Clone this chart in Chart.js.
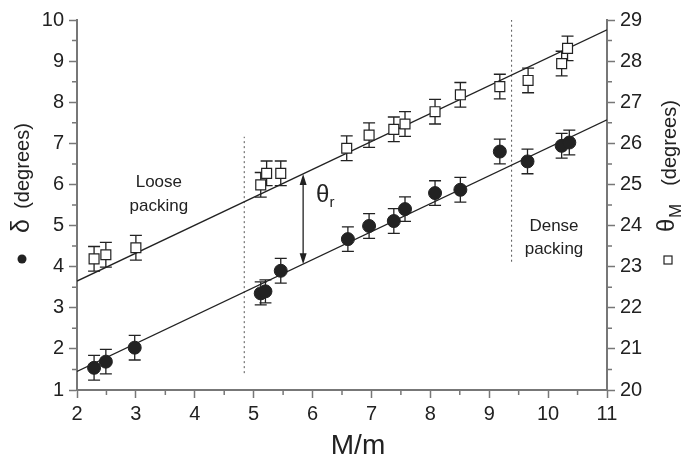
<!DOCTYPE html>
<html>
<head>
<meta charset="utf-8">
<script src="https://cdn.jsdelivr.net/npm/chart.js@4.4.1/dist/chart.umd.min.js"></script>
<style>
  body { margin: 0; background: #fff; }
  #wrap { width: 686px; height: 460px; position: relative; }
</style>
</head>
<body>
<div id="wrap"><canvas id="plot"></canvas></div>
<script>
// δ data (filled circles, left axis)
const deltaX   = [2.29, 2.49, 2.98, 5.12, 5.20, 5.46, 6.60, 6.96, 7.38, 7.57, 8.08, 8.51, 9.18, 9.65, 10.23, 10.36];
const deltaY   = [1.54, 1.69, 2.03, 3.35, 3.40, 3.90, 4.67, 4.99, 5.11, 5.40, 5.79, 5.87, 6.80, 6.56, 6.94, 7.02];
const deltaErr = [0.30, 0.30, 0.30, 0.28, 0.28, 0.30, 0.30, 0.30, 0.30, 0.30, 0.30, 0.30, 0.30, 0.30, 0.30, 0.30];

// θM data (open squares, right axis)
const thetaX   = [2.29, 2.49, 3.00, 5.12, 5.22, 5.46, 6.58, 6.96, 7.38, 7.57, 8.08, 8.51, 9.18, 9.66, 10.23, 10.33];
const thetaY   = [23.19, 23.29, 23.46, 24.99, 25.27, 25.27, 25.88, 26.20, 26.34, 26.47, 26.77, 27.18, 27.38, 27.53, 27.94, 28.31];
const thetaErr = [0.30, 0.30, 0.30, 0.30, 0.30, 0.30, 0.30, 0.30, 0.30, 0.30, 0.30, 0.30, 0.30, 0.30, 0.30, 0.30];

// linear fits
const fitX      = [2, 11];
const deltaFit  = [1.45, 7.57];
const thetaFit  = [22.65, 28.76];

// dotted regime boundaries (left axis values)
const looseEdgeX = 4.84, looseEdgeY = [1.41, 7.16];
const denseEdgeX = 9.38, denseEdgeY = [4.12, 10];

// θr arrow position
const arrowX = 5.84;

const pts = (xs, ys) => xs.map((x, i) => ({ x: x, y: ys[i] }));
const lineAt = (ys, x) => ys[0] + (ys[1] - ys[0]) * (x - fitX[0]) / (fitX[1] - fitX[0]);

const ink = '#222';
const axisGrey = '#777';
const FONT = '"Liberation Sans", Arial, sans-serif';

const extras = {
  id: 'extras',
  beforeDatasetsDraw(chart) {
    const ctx = chart.ctx;
    const xs = chart.scales.x;
    ctx.save();
    ctx.strokeStyle = ink;
    ctx.lineWidth = 1.3;
    chart.data.datasets.forEach(ds => {
      if (!ds.errorBars) return;
      const ys = chart.scales[ds.yAxisID];
      ds.data.forEach((p, i) => {
        const px = xs.getPixelForValue(p.x);
        const top = ys.getPixelForValue(p.y + ds.errorBars[i]);
        const bot = ys.getPixelForValue(p.y - ds.errorBars[i]);
        ctx.beginPath();
        ctx.moveTo(px, top); ctx.lineTo(px, bot);
        ctx.moveTo(px - 6, top); ctx.lineTo(px + 6, top);
        ctx.moveTo(px - 6, bot); ctx.lineTo(px + 6, bot);
        ctx.stroke();
      });
    });
    ctx.restore();
  },
  afterDraw(chart) {
    const ctx = chart.ctx;
    const xs = chart.scales.x, yl = chart.scales.y, yr = chart.scales.y2;
    const area = chart.chartArea;
    ctx.save();

    // minor ticks
    ctx.strokeStyle = axisGrey;
    ctx.lineWidth = 1.5;
    ctx.beginPath();
    for (let v = 2.5; v < 11; v += 1) {
      const p = xs.getPixelForValue(v);
      ctx.moveTo(p, area.bottom); ctx.lineTo(p, area.bottom + 5);
    }
    for (let v = 1.5; v < 10; v += 1) {
      const p = yl.getPixelForValue(v);
      ctx.moveTo(area.left, p); ctx.lineTo(area.left - 5, p);
    }
    for (let v = 20.5; v < 29; v += 1) {
      const p = yr.getPixelForValue(v);
      ctx.moveTo(area.right, p); ctx.lineTo(area.right + 5, p);
    }
    ctx.stroke();

    // θr double arrow
    const ax = xs.getPixelForValue(arrowX);
    const aTop = yl.getPixelForValue(lineAt(thetaFit, arrowX) - 19);
    const aBot = yl.getPixelForValue(lineAt(deltaFit, arrowX));
    ctx.strokeStyle = ink;
    ctx.fillStyle = ink;
    ctx.lineWidth = 1.3;
    ctx.beginPath();
    ctx.moveTo(ax, aTop + 8); ctx.lineTo(ax, aBot - 8);
    ctx.stroke();
    ctx.beginPath();
    ctx.moveTo(ax, aTop); ctx.lineTo(ax - 3.5, aTop + 11); ctx.lineTo(ax + 3.5, aTop + 11); ctx.closePath();
    ctx.moveTo(ax, aBot); ctx.lineTo(ax - 3.5, aBot - 11); ctx.lineTo(ax + 3.5, aBot - 11); ctx.closePath();
    ctx.fill();

    // annotations
    ctx.fillStyle = ink;
    ctx.textAlign = 'center';
    ctx.textBaseline = 'middle';
    ctx.font = '17px ' + FONT;
    ctx.fillText('Loose', xs.getPixelForValue(3.39), yl.getPixelForValue(6.04));
    ctx.fillText('packing', xs.getPixelForValue(3.39), yl.getPixelForValue(5.48));
    ctx.fillText('Dense', xs.getPixelForValue(10.1), yl.getPixelForValue(4.99));
    ctx.fillText('packing', xs.getPixelForValue(10.1), yl.getPixelForValue(4.43));

    ctx.textAlign = 'left';
    ctx.textBaseline = 'alphabetic';
    const tx = xs.getPixelForValue(6.06), ty = yl.getPixelForValue(5.58);
    ctx.font = '24px ' + FONT;
    ctx.fillText('θ', tx, ty);
    const tw = ctx.measureText('θ').width;
    ctx.font = '15px ' + FONT;
    ctx.fillText('r', tx + tw, ty + 5);

    // left axis title (rotated)
    ctx.save();
    ctx.translate(23, 0);
    ctx.rotate(-Math.PI / 2);
    ctx.textAlign = 'center';
    ctx.textBaseline = 'middle';
    ctx.font = '20px ' + FONT;
    ctx.fillText('(degrees)', -166, 0);
    ctx.font = '25px ' + FONT;
    ctx.fillText('δ', -226, -1);
    ctx.restore();
    ctx.beginPath();
    ctx.arc(22, 259, 4.5, 0, Math.PI * 2);
    ctx.fill();

    // right axis title (rotated)
    ctx.save();
    ctx.translate(670, 0);
    ctx.rotate(-Math.PI / 2);
    ctx.textAlign = 'center';
    ctx.textBaseline = 'middle';
    ctx.font = '20px ' + FONT;
    ctx.fillText('(degrees)', -143, 0);
    ctx.textAlign = 'left';
    ctx.font = '24px ' + FONT;
    ctx.fillText('θ', -232, -3);
    ctx.font = '17px ' + FONT;
    ctx.fillText('M', -218, 6);
    ctx.restore();
    ctx.lineWidth = 1.2;
    ctx.strokeRect(664, 256, 8, 8);

    // x axis title
    ctx.textAlign = 'center';
    ctx.textBaseline = 'middle';
    ctx.font = '28px ' + FONT;
    ctx.fillText('M/m', 358, 446);

    ctx.restore();
  }
};

const tickFont = { family: FONT, size: 20 };

new Chart(document.getElementById('plot'), {
  type: 'scatter',
  data: {
    datasets: [
      {
        label: 'δ',
        data: pts(deltaX, deltaY),
        yAxisID: 'y',
        errorBars: deltaErr,
        pointStyle: 'circle',
        pointRadius: 6.5,
        backgroundColor: ink,
        borderColor: ink,
        borderWidth: 1
      },
      {
        label: 'θM',
        data: pts(thetaX, thetaY),
        yAxisID: 'y2',
        errorBars: thetaErr,
        pointStyle: 'rect',
        pointRadius: 7,
        backgroundColor: '#fff',
        borderColor: ink,
        borderWidth: 1.2
      },
      {
        label: 'δ fit',
        type: 'line',
        data: pts(fitX, deltaFit),
        yAxisID: 'y',
        borderColor: ink,
        borderWidth: 1.3,
        pointRadius: 0,
        fill: false
      },
      {
        label: 'θM fit',
        type: 'line',
        data: pts(fitX, thetaFit),
        yAxisID: 'y2',
        borderColor: ink,
        borderWidth: 1.3,
        pointRadius: 0,
        fill: false
      },
      {
        label: 'loose edge',
        type: 'line',
        data: pts([looseEdgeX, looseEdgeX], looseEdgeY),
        yAxisID: 'y',
        borderColor: '#555',
        borderWidth: 1,
        borderDash: [2, 3],
        pointRadius: 0,
        fill: false
      },
      {
        label: 'dense edge',
        type: 'line',
        data: pts([denseEdgeX, denseEdgeX], denseEdgeY),
        yAxisID: 'y',
        borderColor: '#555',
        borderWidth: 1,
        borderDash: [2, 3],
        pointRadius: 0,
        fill: false
      }
    ]
  },
  options: {
    responsive: true,
    maintainAspectRatio: false,
    animation: false,
    layout: { padding: { top: 20, left: 0, right: 0, bottom: 0 } },
    plugins: { legend: { display: false }, tooltip: { enabled: false } },
    scales: {
      x: {
        type: 'linear',
        min: 2, max: 11,
        ticks: { stepSize: 1, color: ink, font: tickFont, padding: 4 },
        grid: { drawOnChartArea: false, drawTicks: true, tickLength: 8, tickColor: axisGrey, tickWidth: 1.5 },
        border: { display: true, color: axisGrey, width: 2 },
        afterFit(s) { s.height = 70; }
      },
      y: {
        position: 'left',
        min: 1, max: 10,
        ticks: { stepSize: 1, color: ink, font: tickFont, padding: 5 },
        grid: { drawOnChartArea: false, drawTicks: true, tickLength: 8, tickColor: axisGrey, tickWidth: 1.5 },
        border: { display: true, color: axisGrey, width: 2 },
        afterFit(s) { s.width = 77; }
      },
      y2: {
        position: 'right',
        min: 20, max: 29,
        ticks: { stepSize: 1, color: ink, font: tickFont, padding: 5 },
        grid: { drawOnChartArea: false, drawTicks: true, tickLength: 8, tickColor: axisGrey, tickWidth: 1.5 },
        border: { display: true, color: axisGrey, width: 2 },
        afterFit(s) { s.width = 79; }
      }
    }
  },
  plugins: [extras]
});
</script>
</body>
</html>
